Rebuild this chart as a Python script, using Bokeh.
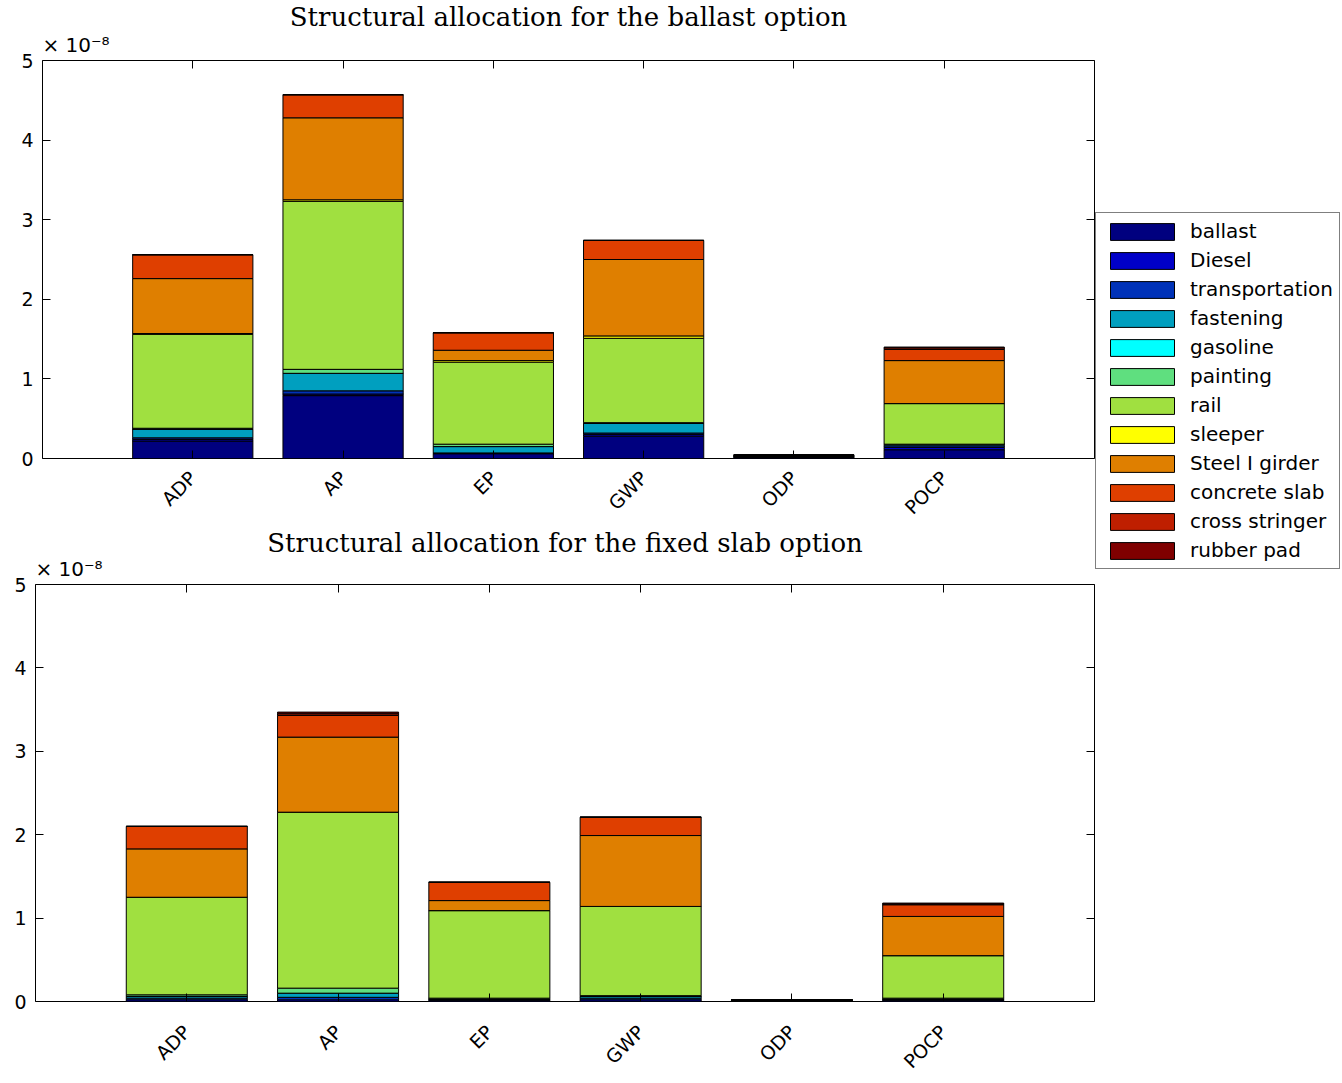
import math
from bokeh.plotting import figure
from bokeh.models import (ColumnDataSource, FixedTicker, LinearAxis, Legend,
                          LegendItem, Range1d, Title, Spacer)
from bokeh.layouts import column, row
from bokeh.embed import file_html
from bokeh.resources import INLINE

# ---------------- data (values in units of 1e-8) ----------------
categories = ["ADP", "AP", "EP", "GWP", "ODP", "POCP"]
components = ["ballast", "Diesel", "transportation", "fastening", "gasoline",
              "painting", "rail", "sleeper", "Steel I girder", "concrete slab",
              "cross stringer", "rubber pad"]
colors = ["#00007f", "#0000c8", "#0032b8", "#009fbf", "#00ffff", "#5fdf7f",
          "#a0e040", "#ffff00", "#df7f00", "#df3f00", "#bf1f00", "#7f0000"]
y_ticks = [0, 1, 2, 3, 4, 5]
title_top = "Structural allocation for the ballast option"
title_bottom = "Structural allocation for the fixed slab option"
scale_note = "× 10⁻⁸"

# ballast option
bal_ballast        = [0.22, 0.79, 0.06, 0.28, 0.010, 0.11]
bal_diesel         = [0.02, 0.02, 0.01, 0.02, 0.005, 0.03]
bal_transportation = [0.02, 0.04, 0.00, 0.02, 0.005, 0.02]
bal_fastening      = [0.11, 0.22, 0.08, 0.12, 0.005, 0.02]
bal_gasoline       = [0.00, 0.00, 0.00, 0.00, 0.000, 0.00]
bal_painting       = [0.01, 0.05, 0.03, 0.01, 0.000, 0.00]
bal_rail           = [1.18, 2.11, 1.03, 1.06, 0.010, 0.51]
bal_sleeper        = [0.01, 0.02, 0.02, 0.03, 0.000, 0.00]
bal_steel          = [0.69, 1.03, 0.13, 0.96, 0.005, 0.54]
bal_concrete       = [0.30, 0.29, 0.22, 0.24, 0.005, 0.14]
bal_cross          = [0.00, 0.00, 0.00, 0.00, 0.000, 0.02]
bal_rubber         = [0.00, 0.00, 0.00, 0.00, 0.000, 0.01]

# fixed slab option
slab_ballast        = [0.00, 0.00, 0.00, 0.00, 0.000, 0.00]
slab_diesel         = [0.02, 0.02, 0.01, 0.02, 0.005, 0.01]
slab_transportation = [0.02, 0.03, 0.01, 0.02, 0.000, 0.01]
slab_fastening      = [0.02, 0.05, 0.01, 0.02, 0.005, 0.01]
slab_gasoline       = [0.00, 0.00, 0.00, 0.00, 0.000, 0.00]
slab_painting       = [0.02, 0.06, 0.01, 0.01, 0.000, 0.01]
slab_rail           = [1.17, 2.11, 1.05, 1.07, 0.005, 0.51]
slab_sleeper        = [0.00, 0.00, 0.00, 0.00, 0.000, 0.00]
slab_steel          = [0.58, 0.90, 0.12, 0.85, 0.005, 0.47]
slab_concrete       = [0.27, 0.26, 0.22, 0.22, 0.000, 0.14]
slab_cross          = [0.00, 0.02, 0.00, 0.00, 0.000, 0.01]
slab_rubber         = [0.00, 0.02, 0.00, 0.00, 0.000, 0.01]

ballast_series = [bal_ballast, bal_diesel, bal_transportation, bal_fastening,
                  bal_gasoline, bal_painting, bal_rail, bal_sleeper, bal_steel,
                  bal_concrete, bal_cross, bal_rubber]
slab_series = [slab_ballast, slab_diesel, slab_transportation, slab_fastening,
               slab_gasoline, slab_painting, slab_rail, slab_sleeper, slab_steel,
               slab_concrete, slab_cross, slab_rubber]

SANS = "DejaVu Sans"
SERIF = "DejaVu Serif"
MAIN_W = 1095
LEG_W = 1342 - MAIN_W
TOP_H = 529


def make_source(series):
    data = {"x": list(range(1, len(categories) + 1))}
    for name, vals in zip(components, series):
        data[name] = vals
    return ColumnDataSource(data)


def make_panel(src, title, height, mb_left, mb_top, mb_bottom, label_standoff,
               title_standoff, title_offset, note_standoff):
    xs = list(range(1, len(categories) + 1))
    p = figure(width=MAIN_W, height=height, x_range=Range1d(0, len(categories) + 1),
               y_range=Range1d(0, 5), output_backend="svg", toolbar_location=None,
               min_border_left=mb_left, min_border_right=1,
               min_border_top=mb_top, min_border_bottom=mb_bottom)
    p.xgrid.visible = False
    p.ygrid.visible = False
    p.outline_line_color = "black"
    p.outline_line_width = 1
    p.background_fill_color = "white"
    p.border_fill_color = "white"

    p.vbar_stack(components, x="x", width=0.8, fill_color=colors,
                 line_color="black", line_width=1, source=src)

    xa = p.xaxis[0]
    xa.ticker = FixedTicker(ticks=xs)
    xa.major_label_overrides = {t: c for t, c in zip(xs, categories)}
    xa.major_label_orientation = math.pi / 4
    xa.major_label_standoff = label_standoff
    ya = p.yaxis[0]
    ya.ticker = FixedTicker(ticks=y_ticks)
    ya.major_label_standoff = 9
    for ax in (xa, ya):
        ax.major_tick_in = 8
        ax.major_tick_out = 0
        ax.minor_tick_line_color = None
        ax.axis_line_color = None
        ax.major_tick_line_color = "black"
        ax.major_label_text_font = SANS
        ax.major_label_text_font_size = "19px"
        ax.major_label_text_color = "black"

    # mirrored inward ticks on the top and right edges (no labels)
    top_ax = LinearAxis(ticker=FixedTicker(ticks=xs),
                        major_label_overrides={t: "" for t in xs},
                        major_label_standoff=0, major_tick_in=8, major_tick_out=0,
                        minor_tick_line_color=None, axis_line_color=None)
    right_ax = LinearAxis(ticker=FixedTicker(ticks=y_ticks),
                          major_label_overrides={t: "" for t in y_ticks},
                          major_label_standoff=0, major_tick_in=8, major_tick_out=0,
                          minor_tick_line_color=None, axis_line_color=None)
    p.add_layout(top_ax, "above")
    p.add_layout(right_ax, "right")

    p.title.text = title
    p.title.text_font = SERIF
    p.title.text_font_size = "26px"
    p.title.text_font_style = "normal"
    p.title.text_color = "black"
    p.title.align = "center"
    p.title.standoff = title_standoff
    p.title.offset = title_offset

    note = Title(text=scale_note, align="left", text_font=SANS, text_font_size="20px",
                 text_font_style="normal", text_color="black", standoff=note_standoff)
    p.add_layout(note, "above")
    return p


src_ballast = make_source(ballast_series)
src_slab = make_source(slab_series)

top = make_panel(src_ballast, title_top, TOP_H, 42, 60, 60, 16, -10, 10, 8)
bottom = make_panel(src_slab, title_bottom, 1083 - TOP_H, 35, 584 - TOP_H, 82, 27, -15, 0, 8)

# legend on its own canvas at the right; its items reuse the ballast data
leg_fig = figure(width=LEG_W, height=372, output_backend="svg",
                 toolbar_location=None, min_border=0, x_range=Range1d(0, 7),
                 y_range=Range1d(0, 5))
leg_fig.axis.visible = False
leg_fig.grid.visible = False
leg_fig.outline_line_color = None
leg_rs = leg_fig.vbar_stack(components, x="x", width=0.8, fill_color=colors,
                            line_color="black", line_width=1, source=src_ballast)
for r in leg_rs:
    r.visible = False
legend = Legend(items=[LegendItem(label=n, renderers=[r]) for n, r in zip(components, leg_rs)],
                location="top_left", orientation="vertical",
                label_text_font=SANS, label_text_font_size="20px", label_text_color="black",
                glyph_width=80, glyph_height=21, label_height=22, label_standoff=8,
                spacing=5, padding=6, margin=0,
                border_line_color="black", border_line_width=1,
                background_fill_color="white", background_fill_alpha=1.0,
                inactive_fill_alpha=0.0, click_policy="none")
leg_fig.add_layout(legend, "center")

layout = row(column(row(top), row(bottom), spacing=0),
             column(Spacer(width=LEG_W, height=212), leg_fig, spacing=0),
             spacing=0)
open("out.html", "w").write(file_html(layout, INLINE))
